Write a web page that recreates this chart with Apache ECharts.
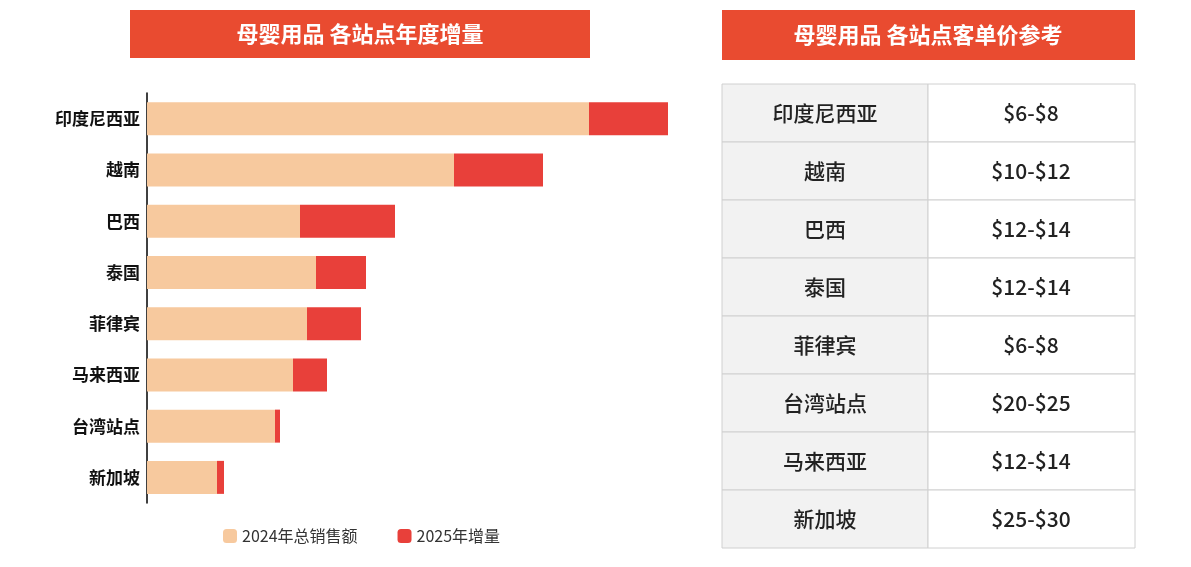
<!DOCTYPE html>
<html><head><meta charset="utf-8">
<script src="https://cdn.jsdelivr.net/npm/echarts@6/dist/echarts.min.js"></script>
<style>html,body{margin:0;padding:0;background:#fff}#c{width:1191px;height:567px}</style>
</head><body><div id="c"></div>
<script>
const categories = ['印度尼西亚','越南','巴西','泰国','菲律宾','马来西亚','台湾站点','新加坡'];
const sales2024 = [442, 307, 153, 169, 160, 146, 128, 70];
const growth2025 = [79, 89, 95, 50, 54, 34, 5, 7];
const tableSites = ['印度尼西亚','越南','巴西','泰国','菲律宾','台湾站点','马来西亚','新加坡'];
const tablePrices = ['$6-$8','$10-$12','$12-$14','$12-$14','$6-$8','$20-$25','$12-$14','$25-$30'];
const FONT = '"Noto Sans CJK SC", sans-serif';
const chart = echarts.init(document.getElementById('c'));
const g = [];
g.push({type:'rect',shape:{x:130,y:10,width:460,height:48},style:{fill:'#e94b30'}});
g.push({type:'text',x:360,y:34,style:{text:'母婴用品 各站点年度增量',fill:'#fff',font:'bold 22px '+FONT,textAlign:'center',textVerticalAlign:'middle'}});
g.push({type:'rect',shape:{x:722,y:10,width:413,height:50},style:{fill:'#e94b30'}});
g.push({type:'text',x:928,y:35,style:{text:'母婴用品 各站点客单价参考',fill:'#fff',font:'bold 22px '+FONT,textAlign:'center',textVerticalAlign:'middle'}});
const top0 = 84, rh = 58;
tableSites.forEach((s,i)=>{
  const y = top0 + i*rh;
  g.push({type:'rect',shape:{x:722,y:y,width:206,height:rh},style:{fill:'#f2f2f2',stroke:'#d0d0d0',lineWidth:1}});
  g.push({type:'rect',shape:{x:928,y:y,width:207,height:rh},style:{fill:'#fff',stroke:'#d0d0d0',lineWidth:1}});
  g.push({type:'text',x:825,y:y+rh/2,style:{text:s,fill:'#222',font:'500 21px '+FONT,textAlign:'center',textVerticalAlign:'middle'}});
  g.push({type:'text',x:1031,y:y+rh/2,style:{text:tablePrices[i],fill:'#222',font:'500 21px '+FONT,textAlign:'center',textVerticalAlign:'middle'}});
});
chart.setOption({
  animation:false,
  textStyle:{fontFamily:FONT},
  grid:{left:147,right:484,top:93,bottom:64},
  legend:{bottom:18,left:218,itemWidth:14,itemHeight:14,itemGap:40,textStyle:{fontSize:16,color:'#333'},
    data:['2024年总销售额','2025年增量']},
  xAxis:{type:'value',min:0,max:560,show:false},
  yAxis:{type:'category',inverse:true,data:categories,
    axisLine:{show:true,lineStyle:{color:'#000',width:1.5}},axisTick:{show:false},
    axisLabel:{fontSize:17,fontWeight:'bold',color:'#111',margin:7}},
  series:[
    {name:'2024年总销售额',type:'bar',stack:'a',data:sales2024,barWidth:33,itemStyle:{color:'#f7c99e'}},
    {name:'2025年增量',type:'bar',stack:'a',data:growth2025,barWidth:33,itemStyle:{color:'#e8403a'}}
  ],
  graphic:g
});
</script></body></html>
